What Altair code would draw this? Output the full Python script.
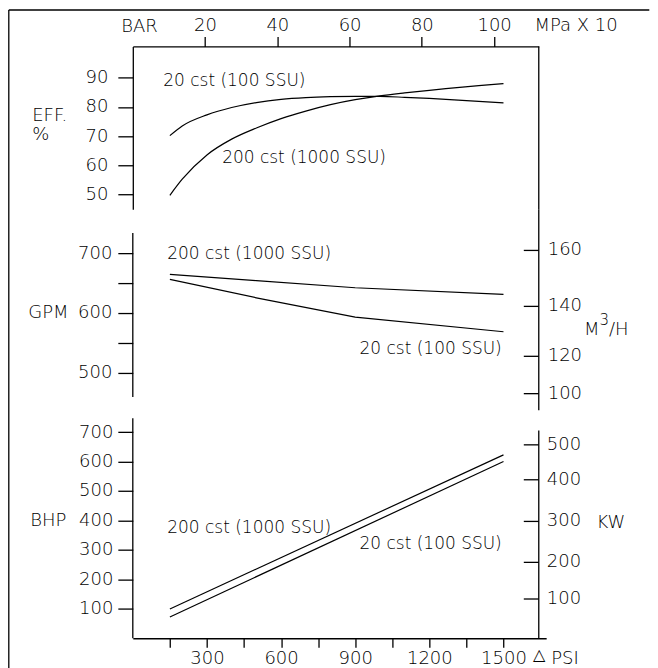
import altair as alt
import pandas as pd

FONT = "DejaVu Sans"
WEIGHT = 200

# ---------------- data ----------------
series_names = ["20 cst (100 SSU)", "200 cst (1000 SSU)"]

psi_eff = [150, 200, 300, 400, 500, 600, 700, 800, 900, 1000, 1100, 1200, 1300, 1400, 1500]
eff_20cst = [70.2, 73.5, 77.3, 79.8, 81.5, 82.6, 83.2, 83.5, 83.6, 83.6, 83.3, 82.9, 82.4, 81.9, 81.4]
eff_200cst = [49.8, 55.3, 63.6, 69.0, 72.8, 76.0, 78.6, 80.8, 82.5, 83.8, 84.8, 85.7, 86.5, 87.3, 88.0]

psi_gpm = [150, 500, 900, 1500]
gpm_20cst = [656.3, 625.5, 593.2, 568.6]
gpm_200cst = [664.7, 654.2, 642.3, 631.2]

psi_bhp = [150, 1500]
bhp_20cst = [72.2, 600.0]
bhp_200cst = [99.3, 622.7]

bar_ticks = [20, 40, 60, 80, 100]
psi_per_bar = 14.62
psi_ticks = [150, 300, 450, 600, 750, 900, 1050, 1200, 1350, 1500]
eff_ticks = [50, 60, 70, 80, 90]
gpm_ticks = [500, 550, 600, 650, 700]
bhp_ticks = [100, 200, 300, 400, 500, 600, 700]
m3h_ticks = [160, 140, 120, 100]
m3h_as_gpm = [704.9, 611.1, 527.4, 464.8]
kw_ticks = [500, 400, 300, 200, 100]
kw_as_bhp = [656.6, 538.0, 396.6, 257.6, 133.2]

# ---------------- layout ----------------
PX_PER_PSI = 0.2475
W1 = 406.6
W3 = 414.0
X1_MAX = W1 / PX_PER_PSI
X3_MAX = W3 / PX_PER_PSI
IN_TICK = 15 / PX_PER_PSI
H1, H2, H3 = 163.0, 201.3, 227.7
EFF_DOM = [45.05, 100.68]
GPM_DOM = [437.1, 774.0]
BHP_DOM = [0.0, 771.9]
LW = 1.3


def ax(**kw):
    base = dict(domainColor="black", tickColor="black", labelColor="black",
                labelFont=FONT, labelFontSize=18, labelFontWeight=WEIGHT, grid=False, title=None,
                labelOverlap=False, labelFlush=False, domainWidth=LW, tickWidth=LW)
    base.update(kw)
    return alt.Axis(**base)


def lines_df(xs, a, b):
    n = len(xs)
    return pd.DataFrame({"psi": list(xs) * 2, "val": list(a) + list(b),
                         "series": [series_names[0]] * n + [series_names[1]] * n})


def label(text, x, y, size=18, align="left"):
    return alt.Chart(pd.DataFrame({"t": [text]})).mark_text(
        align=align, baseline="middle", font=FONT, fontSize=size, fontWeight=WEIGHT, color="black"
    ).encode(x=alt.value(x), y=alt.value(y), text="t:N")


def panel(df_lines, xscale, xaxis, yscale, yaxis, frame, texts, extra, width, height, interp="linear"):
    X = lambda f: alt.X(f, type="quantitative", scale=xscale, axis=xaxis)
    Y = lambda f: alt.Y(f, type="quantitative", scale=yscale, axis=yaxis)
    lines = alt.Chart(df_lines).mark_line(color="black", strokeWidth=1.2, interpolate=interp).encode(
        x=X("psi"), y=Y("val"), detail="series:N")
    rules = alt.Chart(frame).mark_rule(color="black", strokeWidth=LW).encode(
        x=X("x"), x2=alt.X2("x2"), y=Y("y"), y2=alt.Y2("y2"))
    layers = [lines, rules]
    for df_t, align, size, dx in texts:
        layers.append(alt.Chart(df_t).mark_text(
            align=align, baseline="middle", font=FONT, fontSize=size, fontWeight=WEIGHT,
            color="black", dx=dx
        ).encode(x=X("x"), y=Y("y"), text="text:N"))
    layers += extra
    return alt.layer(*layers).properties(width=width, height=height)


xs1 = alt.Scale(domain=[0, X1_MAX], nice=False, zero=False)
xs3 = alt.Scale(domain=[0, X3_MAX], nice=False, zero=False)

# ---------- panel 1 : efficiency ----------
top_axis = ax(orient="top", values=[b * psi_per_bar for b in bar_ticks],
              labelExpr=f"format(datum.value / {psi_per_bar}, '.0f')", tickSize=10, labelPadding=2)
eff_axis = ax(orient="left", values=eff_ticks, tickSize=15, labelPadding=10)
frame1 = pd.DataFrame({"x": [X1_MAX], "x2": [X1_MAX], "y": [EFF_DOM[0]], "y2": [EFF_DOM[1]]})
ann1 = pd.DataFrame({"x": [123.2, 361.6], "y": [88.7, 62.5], "text": series_names})
border = [
    alt.Chart(pd.DataFrame({"a": [0]})).mark_rule(color="black", strokeWidth=LW).encode(
        x=alt.value(-124.2), y=alt.value(-36.5), y2=alt.value(623)),
    alt.Chart(pd.DataFrame({"a": [0]})).mark_rule(color="black", strokeWidth=LW).encode(
        x=alt.value(-124.2), x2=alt.value(517.3), y=alt.value(-36.5)),
]
p1 = panel(lines_df(psi_eff, eff_20cst, eff_200cst), xs1, top_axis,
           alt.Scale(domain=EFF_DOM, nice=False, zero=False), eff_axis, frame1,
           [(ann1, "left", 17, 0)],
           border + [label("BAR", 6.7, -19.5, align="center"), label("MPa X 10", 402.3, -20.8),
                     label("EFF.", -100.7, 69.5), label("%", -100.7, 89)],
           W1, H1, interp="monotone")

# ---------- panel 2 : flow ----------
gpm_axis = ax(orient="left", values=gpm_ticks, tickSize=15, labelPadding=6, domain=False,
              labelExpr="datum.value % 100 === 0 ? datum.label : ''")
frame2 = pd.DataFrame({
    "x": [0, X1_MAX] + [X1_MAX - IN_TICK] * len(m3h_ticks),
    "x2": [0, X1_MAX] + [X1_MAX] * len(m3h_ticks),
    "y": [459.4, GPM_DOM[0]] + m3h_as_gpm,
    "y2": [734.3, GPM_DOM[1]] + m3h_as_gpm})
ann2a = pd.DataFrame({"x": [139.4], "y": [698.7], "text": [series_names[1]]})
ann2b = pd.DataFrame({"x": [1493.0], "y": [539.7], "text": [series_names[0]]})
m3h_lab = pd.DataFrame({"x": [X1_MAX] * len(m3h_ticks), "y": m3h_as_gpm, "text": [str(v) for v in m3h_ticks]})
p2 = panel(lines_df(psi_gpm, gpm_20cst, gpm_200cst), xs1, None,
           alt.Scale(domain=GPM_DOM, nice=False, zero=False), gpm_axis, frame2,
           [(ann2a, "left", 17, 0), (ann2b, "right", 17, 0), (m3h_lab, "left", 18, 9)],
           [label("GPM", -104.7, 103.7), label("M", 451.8, 121), label("3", 467.5, 111, size=15),
            label("/H", 477.0, 121)],
           W1, H2)

# ---------- panel 3 : power ----------
psi_axis = ax(orient="bottom", values=psi_ticks, tickSize=9, labelPadding=2, format="d",
              labelExpr="datum.value % 300 === 0 ? datum.label : ''")
bhp_axis = ax(orient="left", values=bhp_ticks, tickSize=15, labelPadding=5, domain=False)
frame3 = pd.DataFrame({
    "x": [0, X1_MAX] + [X1_MAX - IN_TICK] * len(kw_ticks),
    "x2": [0, X1_MAX] + [X1_MAX] * len(kw_ticks),
    "y": [0, 0] + kw_as_bhp,
    "y2": [746.8, 705.0] + kw_as_bhp})
ann3a = pd.DataFrame({"x": [139.4], "y": [373.9], "text": [series_names[1]]})
ann3b = pd.DataFrame({"x": [1493.0], "y": [318.6], "text": [series_names[0]]})
kw_lab = pd.DataFrame({"x": [X1_MAX] * len(kw_ticks), "y": kw_as_bhp, "text": [str(v) for v in kw_ticks]})
p3 = panel(lines_df(psi_bhp, bhp_20cst, bhp_200cst), xs3, psi_axis,
           alt.Scale(domain=BHP_DOM, nice=False, zero=False), bhp_axis, frame3,
           [(ann3a, "left", 17, 0), (ann3b, "right", 17, 0), (kw_lab, "left", 18, 8)],
           [label("BHP", -102.7, 110), label("KW", 464.3, 112.4),
            label("\u25b3", 407.3, 244.0, size=16, align="center"), label("PSI", 419, 249.0)],
           W3, H3)

chart = alt.vconcat(p1, p2, p3, spacing=0, bounds="flush").properties(
    padding=0, background="white"
).configure_view(stroke=None)

chart.save("out.html", embed_options={"renderer": "svg", "actions": False})
